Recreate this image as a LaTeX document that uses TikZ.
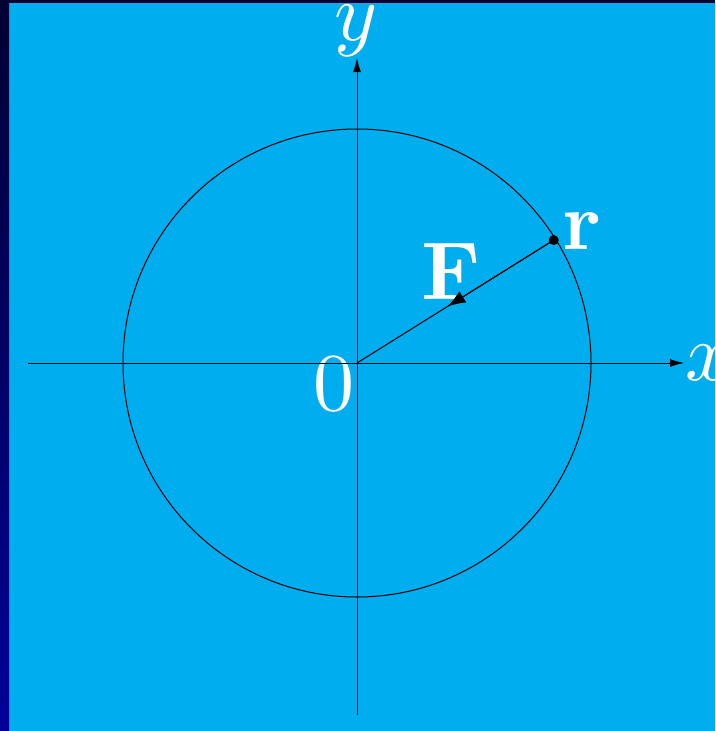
\documentclass[tikz,border=0pt]{standalone}
\usetikzlibrary{arrows.meta,calc}
\definecolor{bgcyan}{HTML}{00ADEF}
\definecolor{topdark}{HTML}{000033}
\definecolor{leftbot}{HTML}{000099}
\tikzset{
  lbl/.style={text=white, inner sep=0pt, scale=8.2},
  axis/.style={line width=1pt, -{Latex[length=14pt,width=8pt]}},
  thin line/.style={line width=1pt},
  forcetip/.style={line width=1pt, -{Latex[length=18pt,width=13pt]}},
}
\begin{document}
\begin{tikzpicture}[x=1pt,y=-1pt]
\useasboundingbox (0,0) rectangle (715,731);
\fill[bgcyan] (0,0) rectangle (715,731);
\fill[topdark] (0,0) rectangle (715,3);
\shade[top color=topdark, bottom color=leftbot] (0,0) rectangle (9,731);
\node[lbl] (ylab) at (356,31) {$y$};
\node[lbl, anchor=west] (xlab) at (684,363) {$x$};
\node[lbl] (zero) at (334,384) {$0$};
\node[lbl] (flab) at (451.5,271.5) {$\mathbf{F}$};
\node[lbl] (rlab) at (582,231) {$\mathbf{r}$};
\coordinate (o) at (357,363);
\coordinate (xs) at (28,363);
\coordinate (xe) at (684,363);
\coordinate (ys) at (357,715);
\coordinate (ye) at (357,58);
\draw[thin line] (o) circle[radius=234pt];
\draw[axis] (xs) -- (xe);
\draw[axis] (ys) -- (ye);
\coordinate (r) at ($(o)+(32:232pt)$);
\coordinate (fm) at ($(r)!0.54!(o)$);
\draw[thin line] (r) -- (o);
\draw[forcetip] (r) -- (fm);
\fill (r) circle[radius=5pt];
\end{tikzpicture}
\end{document}
